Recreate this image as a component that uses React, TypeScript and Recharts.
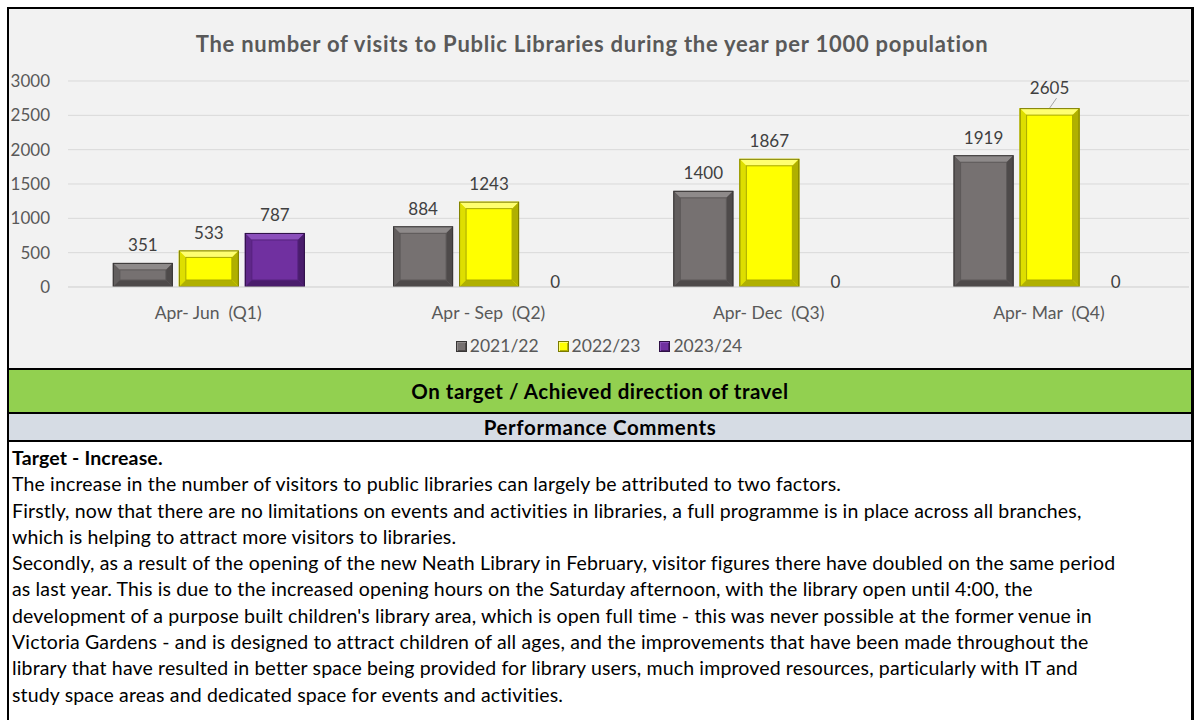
import { Bar, BarChart, CartesianGrid, LabelList, Legend, XAxis, YAxis } from "recharts";

const quarters = ["Apr- Jun  (Q1)", "Apr - Sep  (Q2)", "Apr- Dec  (Q3)", "Apr- Mar  (Q4)"];
const visits2122 = [351, 884, 1400, 1919];
const visits2223 = [533, 1243, 1867, 2605];
const visits2324 = [787, 0, 0, 0];
const yTicks = [0, 500, 1000, 1500, 2000, 2500, 3000];

const series = [
  { key: "v2122", name: "2021/22" },
  { key: "v2223", name: "2022/23" },
  { key: "v2324", name: "2023/24" },
];

const commentLines = [
  "The increase in the number of visitors to public libraries can largely be attributed to two factors.",
  "Firstly, now that there are no limitations on events and activities in libraries, a full programme is in place across all branches,",
  "which is helping to attract more visitors to libraries.",
  "Secondly, as a result of the opening of the new Neath Library in February, visitor figures there have doubled on the same period",
  "as last year. This is due to the increased opening hours on the Saturday afternoon, with the library open until 4:00, the",
  "development of a purpose built children's library area, which is open full time - this was never possible at the former venue in",
  "Victoria Gardens - and is designed to attract children of all ages, and the improvements that have been made throughout the",
  "library that have resulted in better space being provided for library users, much improved resources, particularly with IT and",
  "study space areas and dedicated space for events and activities.",
];

const data = quarters.map((quarter, i) => ({
  quarter,
  v2122: visits2122[i],
  v2223: visits2223[i],
  v2324: visits2324[i],
}));

// bevel shading per series: face, top light, left side, right/bottom dark, outline, inner line
const SHADES: Record<string, { face: string; light: string; side: string; dark: string; edge: string; inner: string }> = {
  v2122: { face: "#767171", light: "#8e8a8a", side: "#625e5e", dark: "#4e4a4a", edge: "#383636", inner: "#5c5858" },
  v2223: { face: "#ffff00", light: "#ffff70", side: "#dede00", dark: "#b0b000", edge: "#7a7a00", inner: "#a8a800" },
  v2324: { face: "#7030a0", light: "#8b4fbb", side: "#5f2789", dark: "#4a1d6c", edge: "#2e1045", inner: "#56227e" },
};

const FONT = "Lato, 'Open Sans', sans-serif";

function bevelShape(key: string) {
  const c = SHADES[key];
  return (props: any) => {
    const { x, y, width: w, height: h } = props;
    if (!h || h <= 0) return <g />;
    const b = Math.min(7, w / 4, h / 3);
    return (
      <g>
        <rect x={x} y={y} width={w} height={h} fill={c.face} />
        <polygon points={`${x},${y} ${x + w},${y} ${x + w - b},${y + b} ${x + b},${y + b}`} fill={c.light} />
        <polygon points={`${x},${y} ${x + b},${y + b} ${x + b},${y + h - b} ${x},${y + h}`} fill={c.side} />
        <polygon points={`${x + w},${y} ${x + w},${y + h} ${x + w - b},${y + h - b} ${x + w - b},${y + b}`} fill={c.dark} />
        <polygon points={`${x},${y + h} ${x + b},${y + h - b} ${x + w - b},${y + h - b} ${x + w},${y + h}`} fill={c.dark} />
        <rect x={x + b} y={y + b} width={Math.max(0, w - 2 * b)} height={Math.max(0, h - 2 * b)} fill={c.face} stroke={c.inner} strokeWidth={1} />
        <rect x={x + 0.5} y={y + 0.5} width={w - 1} height={h - 1} fill="none" stroke={c.edge} strokeWidth={1} />
      </g>
    );
  };
}

function makeLabel(key: string) {
  return (p: any) => {
    const vb = p.viewBox ?? p;
    const x = vb.x ?? p.x;
    const y = vb.y ?? p.y;
    const width = vb.width ?? p.width;
    const height = vb.height ?? p.height;
    const cx = x + width / 2;
    const top = Math.min(y, y + height);
    let cy = top - (Math.abs(height) > 0 ? 18 : 6);
    const leader = key === "v2223" && p.index === 3;
    if (leader) cy -= 3;
    return (
      <g>
        {leader && <line x1={cx + 7} y1={cy + 11} x2={cx} y2={top} stroke="#a6a6a6" strokeWidth={1} />}
        <text x={cx} y={cy} textAnchor="middle" dominantBaseline="central" fill="#404040" fontSize={17} fontFamily={FONT}>
          {p.value}
        </text>
      </g>
    );
  };
}

function QuarterTick({ x, y, payload }: any) {
  return (
    <text x={x} y={y + 23} textAnchor="middle" dominantBaseline="central" fill="#595959" fontSize={17.5} fontFamily={FONT}>
      {String(payload.value).replace(/ /g, "\u00a0")}
    </text>
  );
}

function LegendContent() {
  return (
    <div style={{ display: "flex", justifyContent: "center", gap: 19, fontSize: 17.5, lineHeight: "24px", color: "#595959", fontFamily: FONT }}>
      {series.map((s) => (
        <div key={s.key} style={{ display: "flex", alignItems: "center", gap: 3 }}>
          <span
            style={{
              width: 9,
              height: 9,
              background: SHADES[s.key].face,
              border: `1px solid ${SHADES[s.key].edge}`,
              boxShadow: `inset 1px 1px 0 ${SHADES[s.key].light}, inset -1px -1px 0 ${SHADES[s.key].dark}`,
            }}
          />
          <span>{s.name}</span>
        </div>
      ))}
    </div>
  );
}

export default function App() {
  return (
    <div style={{ position: "absolute", left: 0, top: 0, width: 1194, height: 720, background: "#fff", fontFamily: FONT, overflow: "hidden" }}>
      <div
        style={{
          position: "absolute",
          left: 7,
          top: 7,
          width: 1182,
          height: 720,
          borderLeft: "2px solid #000",
          borderTop: "2px solid #000",
          borderRight: "3px solid #000",
        }}
      >
        <div style={{ position: "relative", height: 359, background: "#f2f2f2" }}>
          <div
            style={{
              position: "absolute",
              left: -16,
              right: 0,
              top: 20,
              lineHeight: "30px",
              textAlign: "center",
              fontSize: 22,
              letterSpacing: 0.75,
              fontWeight: 700,
              color: "#595959",
            }}
          >
            The number of visits to Public Libraries during the year per 1000 population
          </div>
          <BarChart
            width={1182}
            height={359}
            data={data}
            margin={{ top: 72, right: 2, left: 0, bottom: 10 }}
            barCategoryGap="16%"
            barGap={6}
          >
            <CartesianGrid vertical={false} stroke="#d9d9d9" />
            <XAxis dataKey="quarter" axisLine={{ stroke: "#d9d9d9" }} tickLine={false} tickSize={0} height={47} tick={<QuarterTick />} interval={0} />
            <YAxis
              domain={[0, 3000]}
              ticks={yTicks}
              width={59}
              axisLine={false}
              tickLine={false}
              tickSize={0}
              tickMargin={18}
              tick={{ fill: "#595959", fontSize: 17, fontFamily: FONT }}
            />
            <Legend verticalAlign="bottom" height={24} content={<LegendContent />} />
            {series.map((s) => (
              <Bar key={s.key} dataKey={s.key} name={s.name} fill={SHADES[s.key].face} shape={bevelShape(s.key)} isAnimationActive={false}>
                <LabelList dataKey={s.key} content={makeLabel(s.key)} />
              </Bar>
            ))}
          </BarChart>
        </div>
        <div style={{ height: 42, borderTop: "2px solid #000", background: "#92d050", display: "flex", alignItems: "center", justifyContent: "center", fontSize: 20.5, letterSpacing: 0.5, fontWeight: 700, color: "#000" }}>
          On target / Achieved direction of travel
        </div>
        <div style={{ height: 26, borderTop: "2px solid #000", background: "#d6dce4", display: "flex", alignItems: "center", justifyContent: "center", fontSize: 20.5, letterSpacing: 0.6, fontWeight: 700, color: "#000" }}>
          Performance Comments
        </div>
        <div style={{ borderTop: "2px solid #000", paddingTop: 3, paddingLeft: 3, fontSize: 19.5, letterSpacing: 0.15, lineHeight: "26.3px", color: "#000", whiteSpace: "nowrap" }}>
          <div style={{ fontWeight: 700 }}>Target - Increase.</div>
          {commentLines.map((line, i) => (
            <div key={i}>{line}</div>
          ))}
        </div>
      </div>
    </div>
  );
}
